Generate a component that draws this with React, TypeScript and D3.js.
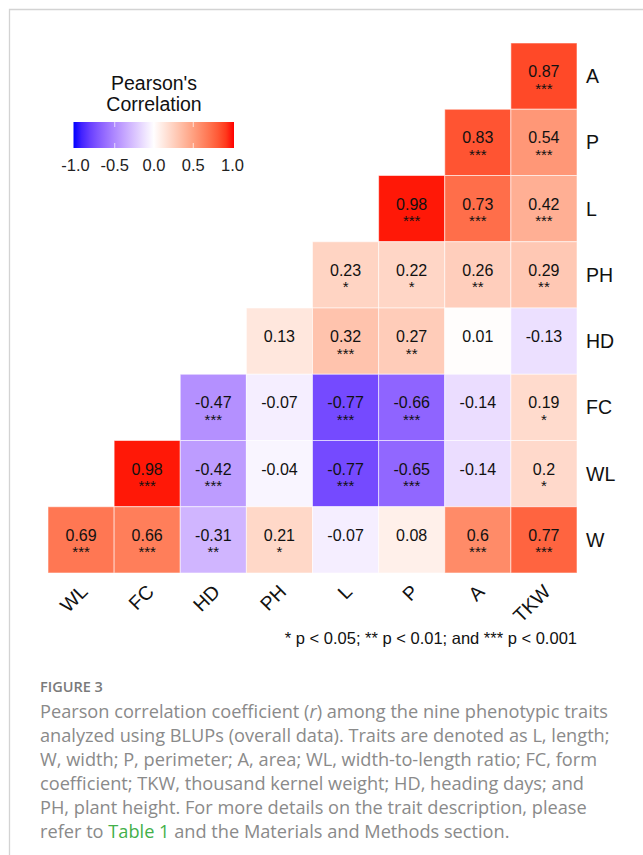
import React from "react";
import * as d3 from "d3";

// Traits on the x axis (columns) and y axis (rows, top to bottom)
const colTraits = ["WL", "FC", "HD", "PH", "L", "P", "A", "TKW"];
const rowTraits = ["A", "P", "L", "PH", "HD", "FC", "WL", "W"];

// Lower-triangle correlations; each row fills the rightmost columns
const corrByRow: number[][] = [
  [0.87],
  [0.83, 0.54],
  [0.98, 0.73, 0.42],
  [0.23, 0.22, 0.26, 0.29],
  [0.13, 0.32, 0.27, 0.01, -0.13],
  [-0.47, -0.07, -0.77, -0.66, -0.14, 0.19],
  [0.98, -0.42, -0.04, -0.77, -0.65, -0.14, 0.2],
  [0.69, 0.66, -0.31, 0.21, -0.07, 0.08, 0.6, 0.77],
];

const starsByRow: string[][] = [
  ["***"],
  ["***", "***"],
  ["***", "***", "***"],
  ["*", "*", "**", "**"],
  ["", "***", "**", "", ""],
  ["***", "", "***", "***", "", "*"],
  ["***", "***", "", "***", "***", "", "*"],
  ["***", "***", "**", "*", "", "", "***", "***"],
];

const legendTicks = [-1, -0.5, 0, 0.5, 1];

const captionLines = [
  "Pearson correlation coefficient (r) among the nine phenotypic traits",
  "analyzed using BLUPs (overall data). Traits are denoted as L, length;",
  "W, width; P, perimeter; A, area; WL, width-to-length ratio; FC, form",
  "coefficient; TKW, thousand kernel weight; HD, heading days; and",
  "PH, plant height. For more details on the trait description, please",
  "refer to Table 1 and the Materials and Methods section.",
];

const W = 643;
const H = 855;
const chartFont = "'Liberation Sans', Arial, Helvetica, sans-serif";
const captionFont = "'Open Sans', Lato, sans-serif";

export default function App() {
  const x = d3.scaleBand<string>().domain(colTraits).range([48, 577]);
  const y = d3.scaleBand<string>().domain(rowTraits).range([43, 573]);
  const color = d3
    .scaleLinear<string>()
    .domain([-1, 0, 1])
    .range(["#0000ff", "#ffffff", "#ff0000"])
    .interpolate(d3.interpolateLab)
    .clamp(true);

  const cells = rowTraits.flatMap((rt, i) => {
    const vals = corrByRow[i];
    const offset = colTraits.length - vals.length;
    return vals.map((v, j) => ({
      row: rt,
      col: colTraits[offset + j],
      value: v,
      stars: starsByRow[i][j],
    }));
  });

  const lg = d3.scaleLinear().domain([-1, 1]).range([75.5, 232.5]);
  const barX0 = 73.5;
  const barX1 = 234;
  const barY = 122;
  const barH = 26;
  const gradStops = d3.range(0, 1.0001, 0.05).map((t) => {
    const px = barX0 + t * (barX1 - barX0);
    return { offset: t, c: color(lg.invert(px)) };
  });

  const bw = x.bandwidth();
  const bh = y.bandwidth();

  // Caption line layout
  const capX = 40;
  const capY0 = 718;
  const capDy = 24;

  const renderCaptionLine = (line: string, i: number) => {
    const yy = capY0 + i * capDy;
    if (line.includes("(r)")) {
      const [a, b] = line.split("(r)");
      return (
        <text key={i} x={capX} y={yy}>
          {a}(<tspan fontStyle="italic">r</tspan>){b}
        </text>
      );
    }
    if (line.includes("Table 1")) {
      const [a, b] = line.split("Table 1");
      return (
        <text key={i} x={capX} y={yy}>
          {a}
          <tspan fill="#43b04a">Table 1</tspan>
          {b}
        </text>
      );
    }
    return (
      <text key={i} x={capX} y={yy}>
        {line}
      </text>
    );
  };

  return (
    <svg
      width={W}
      height={H}
      viewBox={`0 0 ${W} ${H}`}
      style={{ position: "absolute", left: 0, top: 0, background: "#fff" }}
    >
      <defs>
        <linearGradient id="corrGrad" x1="0" x2="1" y1="0" y2="0">
          {gradStops.map((s, i) => (
            <stop key={i} offset={s.offset} stopColor={s.c} />
          ))}
        </linearGradient>
      </defs>
      <rect x={0} y={0} width={W} height={H} fill="#fff" />

      {/* frame */}
      <path d={`M9.5,${H} L9.5,9.5 L${W},9.5`} fill="none" stroke="#d3d3d3" strokeWidth={1.3} />

      {/* legend */}
      <g fontFamily={chartFont} fill="#111">
        <text x={154} y={90} textAnchor="middle" fontSize={19.5}>
          Pearson's
        </text>
        <text x={154} y={111} textAnchor="middle" fontSize={19.5}>
          Correlation
        </text>
        <rect x={barX0} y={barY} width={barX1 - barX0} height={barH} fill="url(#corrGrad)" />
        {legendTicks
          .filter((t) => Math.abs(t) < 1)
          .map((t) => (
            <g key={t}>
              <line x1={lg(t)} x2={lg(t)} y1={barY} y2={barY + 5} stroke="#fff" strokeOpacity={0.7} />
              <line x1={lg(t)} x2={lg(t)} y1={barY + barH - 5} y2={barY + barH} stroke="#fff" strokeOpacity={0.7} />
            </g>
          ))}
        {legendTicks.map((t) => (
          <text key={t} x={lg(t)} y={171} textAnchor="middle" fontSize={16.5} fill="#222">
            {d3.format(".1f")(t).replace("−", "-")}
          </text>
        ))}
      </g>

      {/* heatmap cells */}
      <g>
        {cells.map((c) => (
          <rect
            key={c.row + c.col}
            x={x(c.col)}
            y={y(c.row)}
            width={bw}
            height={bh}
            fill={color(c.value)}
            stroke="#ffffff"
            strokeOpacity={0.55}
            strokeWidth={1}
          />
        ))}
      </g>
      <g fontFamily={chartFont} fill="#111" textAnchor="middle">
        {cells.map((c) => {
          const cx = (x(c.col) ?? 0) + bw / 2;
          const cy = (y(c.row) ?? 0) + bh / 2;
          return (
            <g key={"t" + c.row + c.col}>
              <text x={cx} y={cy + 1} fontSize={16}>
                {String(c.value)}
              </text>
              {c.stars && (
                <text x={cx} y={cy + 17.5} fontSize={15}>
                  {c.stars}
                </text>
              )}
            </g>
          );
        })}
      </g>

      {/* row labels */}
      <g fontFamily={chartFont} fill="#111" fontSize={19.5}>
        {rowTraits.map((r) => (
          <text key={r} x={586} y={(y(r) ?? 0) + bh / 2 + 7}>
            {r}
          </text>
        ))}
      </g>

      {/* column labels */}
      <g fontFamily={chartFont} fill="#111" fontSize={19.5}>
        {colTraits.map((c) => {
          const cx = (x(c) ?? 0) + bw / 2;
          return (
            <text
              key={c}
              transform={`translate(${cx - 2},${583}) rotate(-45)`}
              textAnchor="end"
              dy="0.72em"
            >
              {c}
            </text>
          );
        })}
      </g>

      {/* significance note */}
      <text x={577} y={644} textAnchor="end" fontFamily={chartFont} fontSize={16.5} fill="#111">
        * p &lt; 0.05; ** p &lt; 0.01; and *** p &lt; 0.001
      </text>

      {/* caption */}
      <text x={capX} y={692} fontFamily={captionFont} fontSize={14.5} fontWeight={600} fill="#7a7a7a">
        FIGURE 3
      </text>
      <g fontFamily={captionFont} fontSize={18.2} fill="#8a8a8a">
        {captionLines.map(renderCaptionLine)}
      </g>
    </svg>
  );
}
